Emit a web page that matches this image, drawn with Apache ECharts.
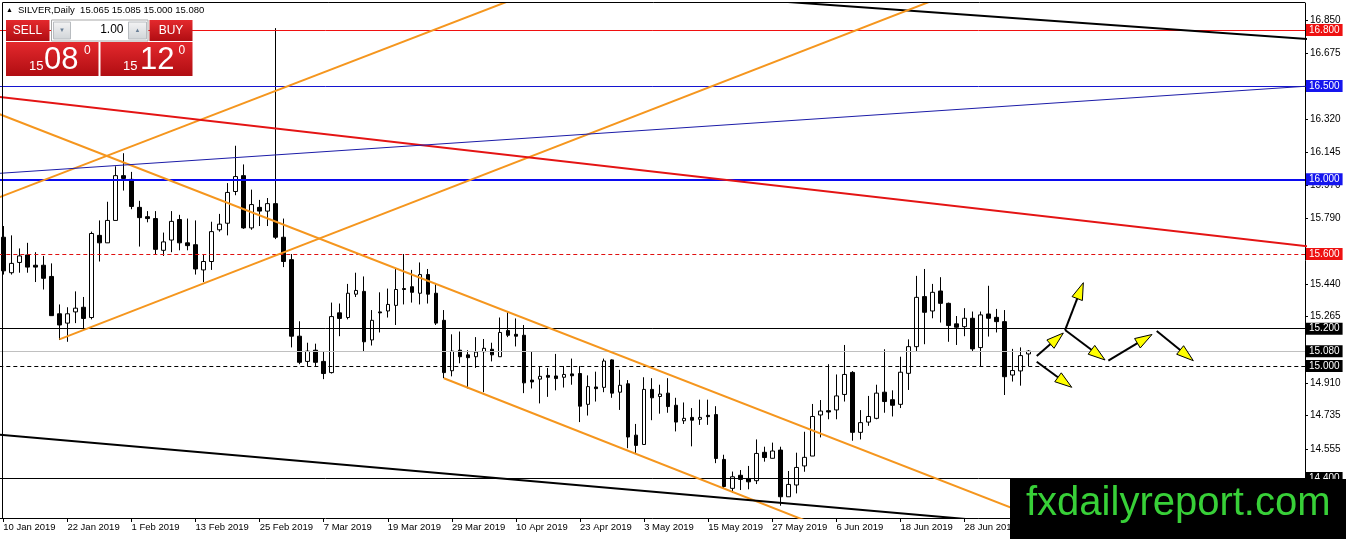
<!DOCTYPE html>
<html>
<head>
<meta charset="utf-8">
<script src="https://cdn.jsdelivr.net/npm/echarts@6.0.0/dist/echarts.min.js"></script>
<style>html,body{margin:0;padding:0;background:#fff;}#c{width:1346px;height:539px;}</style>
</head>
<body>
<div id="c"></div>
<script>
// ---- trading days (categories) ----
const monthDays = {
  Jan: [10,11,14,15,16,17,18,21,22,23,24,25,28,29,30,31],
  Feb: [1,4,5,6,7,8,11,12,13,14,15,18,19,20,21,22,25,26,27,28],
  Mar: [1,4,5,6,7,8,11,12,13,14,15,18,19,20,21,22,25,26,27,28,29],
  Apr: [1,2,3,4,5,8,9,10,11,12,15,16,17,18,22,23,24,25,26,29,30],
  May: [1,2,3,6,7,8,9,10,13,14,15,16,17,20,21,22,23,24,27,28,29,30,31],
  Jun: [3,4,5,6,7,10,11,12,13,14,17,18,19,20,21,24,25,26,27,28],
  Jul: [1,2,3,4,5,8,9,10]
};
const futureSlots = 34;

// ---- OHLC ----
const opens = [15.69,15.50,15.555,15.595,15.54,15.54,15.48,15.28,15.23,15.29,15.315,15.26,15.70,15.66,15.78,16.02,16.00,15.85,15.80,15.79,15.62,15.675,15.785,15.66,15.65,15.515,15.56,15.73,15.765,15.935,16.02,15.74,15.85,15.83,15.87,15.69,15.57,15.16,15.025,15.085,15.025,14.965,15.285,15.26,15.385,15.40,15.14,15.29,15.295,15.325,15.415,15.425,15.39,15.49,15.39,15.245,14.975,15.085,15.06,15.05,15.077,15.09,15.05,15.19,15.17,15.165,14.925,14.93,14.95,14.947,14.94,14.958,14.96,14.795,14.888,14.886,15.033,14.86,14.905,14.63,14.58,14.875,14.837,14.855,14.79,14.707,14.725,14.715,14.736,14.74,14.50,14.345,14.415,14.398,14.386,14.538,14.506,14.55,14.30,14.363,14.465,14.518,14.738,14.761,14.765,14.848,14.966,14.645,14.70,14.72,14.86,14.82,14.795,14.961,15.104,15.372,15.295,15.402,15.336,15.226,15.211,15.256,15.099,15.279,15.261,15.238,14.952,14.974,15.065];
const highs = [15.75,15.70,15.63,15.66,15.61,15.59,15.55,15.33,15.315,15.40,15.37,15.72,15.78,15.88,16.07,16.14,16.04,15.885,15.83,15.83,15.715,15.83,15.81,15.79,15.78,15.60,15.773,15.815,15.98,16.18,16.08,15.945,15.89,15.90,16.81,15.79,15.60,15.24,15.125,15.12,15.08,15.34,15.335,15.44,15.50,15.48,15.30,15.395,15.415,15.52,15.60,15.515,15.555,15.52,15.445,15.30,15.17,15.185,15.085,15.155,15.145,15.125,15.26,15.29,15.255,15.22,15.08,15.00,14.99,15.065,15.00,15.04,15.00,14.95,14.97,15.04,15.036,14.98,14.925,14.69,14.94,14.935,14.90,14.935,14.83,14.805,14.775,14.82,14.82,14.785,14.525,14.435,14.443,14.465,14.607,14.568,14.59,14.568,14.438,14.536,14.648,14.797,14.818,15.01,14.955,15.113,14.973,14.764,14.84,14.90,15.09,14.87,15.05,15.143,15.483,15.52,15.44,15.476,15.34,15.268,15.31,15.292,15.292,15.43,15.306,15.30,15.092,15.10,15.085];
const lows = [15.49,15.49,15.50,15.50,15.45,15.41,15.27,15.14,15.13,15.23,15.20,15.25,15.56,15.66,15.78,15.94,15.84,15.64,15.77,15.60,15.59,15.61,15.62,15.62,15.49,15.45,15.515,15.72,15.70,15.915,15.735,15.73,15.75,15.75,15.68,15.53,15.10,15.01,15.00,15.00,14.93,14.96,15.16,15.25,15.37,15.08,15.11,15.18,15.26,15.22,15.33,15.34,15.33,15.335,15.22,14.935,14.945,15.015,14.88,14.99,14.86,15.025,15.05,15.155,15.105,14.855,14.88,14.80,14.835,14.87,14.885,14.90,14.70,14.735,14.81,14.86,14.83,14.765,14.56,14.53,14.58,14.71,14.745,14.75,14.65,14.69,14.57,14.685,14.685,14.48,14.345,14.32,14.336,14.34,14.368,14.488,14.505,14.252,14.30,14.318,14.434,14.518,14.618,14.715,14.715,14.81,14.60,14.607,14.68,14.715,14.75,14.73,14.775,14.872,15.077,15.117,15.256,15.233,15.13,15.113,15.16,15.077,15.00,15.158,15.18,14.845,14.917,14.895,15.00];
const closes = [15.51,15.55,15.59,15.53,15.53,15.47,15.27,15.22,15.28,15.31,15.255,15.71,15.66,15.78,16.02,16.005,15.855,15.795,15.79,15.625,15.665,15.775,15.66,15.645,15.52,15.56,15.72,15.76,15.93,16.015,15.74,15.865,15.83,15.87,15.69,15.56,15.16,15.02,15.08,15.02,14.96,15.265,15.255,15.39,15.405,15.13,15.245,15.285,15.33,15.41,15.41,15.395,15.49,15.385,15.23,14.965,15.08,15.05,15.045,15.075,15.095,15.06,15.18,15.165,15.16,14.91,14.915,14.945,14.94,14.933,14.955,14.948,14.785,14.89,14.879,15.027,14.855,14.897,14.62,14.575,14.875,14.83,14.85,14.783,14.70,14.72,14.71,14.725,14.729,14.505,14.355,14.407,14.393,14.38,14.532,14.51,14.545,14.30,14.366,14.457,14.511,14.73,14.759,14.754,14.84,14.955,14.645,14.697,14.73,14.855,14.81,14.79,14.967,15.104,15.368,15.288,15.395,15.336,15.217,15.208,15.256,15.092,15.274,15.256,15.238,14.943,14.976,15.056,15.08];

// ---- price axis ----
const yMin = 14.1862, yMax = 16.9446;
const priceTicks = [16.85,16.675,16.32,16.145,15.97,15.79,15.44,15.265,14.91,14.735,14.555];

// ---- horizontal levels ----
const levelValues = [16.8, 16.5, 16.0, 15.6, 15.2, 15.08, 15.0, 14.4];
const levelColors = ['#f01010','#1414d0','#0a0af0','#e01010','#000000','#c0c0c0','#000000','#000000'];
const levelBoxColors = ['#ee1111','#1515ee','#1515ee','#ee1111','#000000','#000000','#000000','#000000'];
const levelWidths = [1,1,2,1,1,1,1,1];
const levelDashed = [false,false,false,true,false,false,true,false];

// ---- trend lines [barIndex, price] ----
const lineTopBlack = [[80, 17.005],[170, 16.729]];
const lineOrangeUp1 = [[-2, 15.879],[70, 17.069]];
const lineOrangeUp2 = [[7, 15.143],[120, 17.024]];
const lineOrangeDown1 = [[-2, 16.3745],[130, 14.1716]];
const lineOrangeDown2 = [[55, 14.935],[110, 14.0055]];
const lineRed = [[-2, 16.4489],[170, 15.6064]];
const lineBlue = [[-2, 16.0279],[170, 16.5198]];
const lineBottomBlack = [[-2, 14.6383],[170, 13.9942]];

// ---- arrows [barFrom, priceFrom, barTo, priceTo] ----
const arrows = [
  [129.01, 15.0539, 132.33, 15.177],
  [132.55, 15.193, 134.83, 15.4465],
  [132.55, 15.193, 137.54, 15.0325],
  [137.95, 15.0287, 143.4, 15.169],
  [143.99, 15.188, 148.56, 15.0287],
  [129.01, 15.0234, 133.38, 14.8862]
];

// ---- build ----
const categories = [];
Object.keys(monthDays).forEach(m => monthDays[m].forEach(d => categories.push(d + ' ' + m + ' 2019')));
for (let i = 0; i < futureSlots; i++) categories.push('f' + i);
const candleData = opens.map((o, i) => [o, closes[i], lows[i], highs[i]]);
const N = categories.length;

const FONT = 'Liberation Sans';
const markData = levelValues.map((v, i) => ({
  yAxis: v,
  lineStyle: { color: levelColors[i], width: levelWidths[i], type: levelDashed[i] ? [4, 3] : 'solid' },
  label: {
    show: true, position: 'end', distance: 1, formatter: v.toFixed(3),
    color: '#fff', backgroundColor: levelBoxColors[i], padding: [1, 3, 0, 3],
    fontSize: 10, fontFamily: FONT, lineHeight: 11
  }
}));

function trend(data, color, width) {
  return { type: 'line', xAxisIndex: 1, yAxisIndex: 0, data: data, symbol: 'none', showSymbol: false,
    lineStyle: { color: color, width: width }, clip: true, silent: true, z: 4, animation: false };
}

const redGrad = () => new echarts.graphic.LinearGradient(0, 0, 0, 1, [
  { offset: 0, color: '#e4292d' }, { offset: 1, color: '#b00d12' }]);
const grayGrad = () => new echarts.graphic.LinearGradient(0, 0, 0, 1, [
  { offset: 0, color: '#f4f4f4' }, { offset: 1, color: '#d0d4d8' }]);
function txt(x, y, text, size, color, align) {
  return { type: 'text', x: x, y: y, z: 102,
    style: { text: text, fill: color, fontSize: size, fontFamily: FONT, align: align || 'left', verticalAlign: 'middle' } };
}

const chart = echarts.init(document.getElementById('c'), null, { renderer: 'canvas' });
chart.setOption({
  animation: false,
  backgroundColor: '#ffffff',
  grid: { left: -0.7, top: 3, width: 1305.7, height: 515, outerBoundsMode: 'none', containLabel: false, show: false },
  xAxis: [
    { type: 'category', data: categories, boundaryGap: true, gridIndex: 0,
      axisLine: { show: true, onZero: false, lineStyle: { color: '#000', width: 1 } },
      axisTick: { show: true, alignWithLabel: true, interval: 7, length: 4, lineStyle: { color: '#000' } },
      axisLabel: { interval: 7, align: 'left', margin: 4, color: '#000', fontSize: 9.5, fontFamily: FONT,
        formatter: v => (v.charAt(0) === 'f' ? '' : v) },
      splitLine: { show: false } },
    { type: 'value', min: -0.5, max: N - 0.5, show: false, gridIndex: 0,
      axisLine: { onZero: false } }
  ],
  yAxis: {
    type: 'value', position: 'right', min: yMin, max: yMax,
    axisLine: { show: true, onZero: false, lineStyle: { color: '#000', width: 1 } },
    axisTick: { show: true, length: 3, lineStyle: { color: '#000' }, customValues: priceTicks },
    axisLabel: { show: true, margin: 5, color: '#000', fontSize: 10, fontFamily: FONT,
      formatter: v => v.toFixed(3), customValues: priceTicks },
    splitLine: { show: false }
  },
  series: [
    { type: 'candlestick', xAxisIndex: 0, yAxisIndex: 0, data: candleData, barWidth: 4, z: 2,
      itemStyle: { color: '#ffffff', color0: '#000000', borderColor: '#000000', borderColor0: '#000000', borderWidth: 1 },
      markLine: { silent: true, symbol: ['none', 'none'], animation: false, data: markData, z: 3 } },
    trend(lineTopBlack, '#000000', 2),
    trend(lineOrangeUp1, '#f5961e', 2),
    trend(lineOrangeUp2, '#f5961e', 2),
    trend(lineOrangeDown1, '#f5961e', 2),
    trend(lineOrangeDown2, '#f5961e', 2),
    trend(lineRed, '#e41414', 2),
    trend(lineBlue, '#1c1ca8', 1),
    trend(lineBottomBlack, '#000000', 2),
    { type: 'custom', xAxisIndex: 1, yAxisIndex: 0, data: arrows, z: 6, silent: true,
      encode: { x: [0, 2], y: [1, 3] },
      renderItem: function (params, api) {
        const p0 = api.coord([api.value(0), api.value(1)]);
        const p1 = api.coord([api.value(2), api.value(3)]);
        const dx = p1[0] - p0[0], dy = p1[1] - p0[1];
        const len = Math.sqrt(dx * dx + dy * dy);
        const ux = dx / len, uy = dy / len, hl = 17, hw = 5.5;
        const bx = p1[0] - ux * hl, by = p1[1] - uy * hl;
        const nx = -uy, ny = ux;
        return { type: 'group', children: [
          { type: 'line', shape: { x1: p0[0], y1: p0[1], x2: bx + ux * 2, y2: by + uy * 2 }, style: { stroke: '#000', lineWidth: 2 } },
          { type: 'polygon', shape: { points: [[p1[0], p1[1]], [bx + nx * hw, by + ny * hw], [bx - nx * hw, by - ny * hw]] },
            style: { fill: '#ffff00', stroke: '#000', lineWidth: 1 } }
        ] };
      } }
  ],
  graphic: [
    { type: 'line', z: 100, shape: { x1: 2.5, y1: 2.5, x2: 2.5, y2: 518 }, style: { stroke: '#000', lineWidth: 1 } },
    { type: 'line', z: 100, shape: { x1: 2.5, y1: 2.5, x2: 1305, y2: 2.5 }, style: { stroke: '#000', lineWidth: 1 } },
    txt(6, 10.5, '▲', 7, '#000'),
    txt(18, 10.5, 'SILVER,Daily  15.065 15.085 15.000 15.080', 9.5, '#000'),
    // trade panel
    { type: 'rect', z: 101, shape: { x: 6, y: 20, width: 43.5, height: 21 }, style: { fill: redGrad() } },
    { type: 'rect', z: 101, shape: { x: 51.5, y: 20, width: 96.5, height: 21 }, style: { fill: '#ffffff', stroke: '#a8a8a8', lineWidth: 1 } },
    { type: 'rect', z: 101, shape: { x: 53.5, y: 22, width: 17, height: 17 }, style: { fill: grayGrad(), stroke: '#b8bcc0', lineWidth: 1 } },
    { type: 'rect', z: 101, shape: { x: 128.5, y: 22, width: 18, height: 17 }, style: { fill: grayGrad(), stroke: '#b8bcc0', lineWidth: 1 } },
    { type: 'rect', z: 101, shape: { x: 149.5, y: 20, width: 43, height: 21 }, style: { fill: redGrad() } },
    { type: 'rect', z: 101, shape: { x: 6, y: 42, width: 92.5, height: 34 }, style: { fill: redGrad() } },
    { type: 'rect', z: 101, shape: { x: 100.5, y: 42, width: 92, height: 34 }, style: { fill: redGrad() } },
    txt(27.5, 31, 'SELL', 12, '#ffffff', 'center'),
    txt(171, 31, 'BUY', 12, '#ffffff', 'center'),
    txt(62, 30.5, '▼', 6, '#6a7f96', 'center'),
    txt(137.5, 30.5, '▲', 6, '#6a7f96', 'center'),
    txt(123.5, 30, '1.00', 12, '#000000', 'right'),
    txt(29, 66.5, '15', 13, '#ffffff'),
    txt(44, 60.5, '08', 31, '#ffffff'),
    txt(84, 51, '0', 12, '#ffffff'),
    txt(123, 66.5, '15', 13, '#ffffff'),
    txt(140, 60.5, '12', 31, '#ffffff'),
    txt(178.5, 51, '0', 12, '#ffffff'),
    // watermark
    { type: 'rect', z: 100, shape: { x: 1010, y: 479, width: 336, height: 60 }, style: { fill: '#000000' } },
    txt(1026, 504, 'fxdailyreport.com', 40, '#38d038')
  ]
});
</script>
</body>
</html>
